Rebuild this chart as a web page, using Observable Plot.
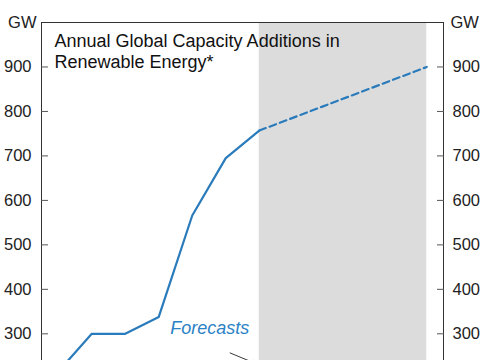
<!DOCTYPE html>
<html>
<head>
<meta charset="utf-8">
<script src="https://cdn.jsdelivr.net/npm/d3@7"></script>
<script src="https://cdn.jsdelivr.net/npm/@observablehq/plot@0.6"></script>
<style>
  html, body { margin: 0; padding: 0; background: #fff; overflow: hidden; }
</style>
</head>
<body>
<div id="chart"></div>
<script>
// Actual annual additions (GW)
const actualYears = [2017, 2018, 2019, 2020, 2021, 2022, 2023];
const actualValues = [215, 300, 300, 338, 566, 695, 757];
// Forecast (dashed)
const forecastYears = [2023, 2028];
const forecastValues = [757, 900];
// Forecast shading span
const shadeStart = [2023];
const shadeEnd = [2028];
// Axis ticks
const yTicks = [300, 400, 500, 600, 700, 800, 900];
const unitLabel = "GW";
const titleText = "Annual Global Capacity Additions in\nRenewable Energy*";
const forecastLabel = "Forecasts";
// annotation positions (data units)
const labelPos = {x: 2020.34, y: 300};
const arrowPos = {x1: 2022.13, y1: 257, x2: 2022.93, y2: 232};

const actual = actualYears.map((x, i) => ({x, y: actualValues[i]}));
const forecast = forecastYears.map((x, i) => ({x, y: forecastValues[i]}));
const shade = shadeStart.map((s, i) => ({x1: s, x2: shadeEnd[i]}));

const xDomain = [2016.5, 2028.5];
const yDomain = [240, 1000];
const font = "'Liberation Sans', Arial, Helvetica, sans-serif";
const blue = "#2a7bbb";

const chart = Plot.plot({
  width: 485,
  height: 360,
  marginTop: 22,
  marginLeft: 41,
  marginRight: 42,
  marginBottom: 0,
  style: {fontFamily: font, fontSize: "16px", color: "#222", background: "#fff"},
  x: {domain: xDomain, axis: null},
  y: {domain: yDomain, axis: null},
  marks: [
    Plot.rect(shade, {x1: "x1", x2: "x2", fill: "#dcdcdc"}),
    Plot.ruleX(xDomain, {stroke: "#333", strokeWidth: 1}),
    Plot.ruleY([yDomain[1]], {stroke: "#333", strokeWidth: 1}),
    Plot.axisY(yTicks, {anchor: "left", tickSize: 7, dx: 7, tickPadding: 10, stroke: "#555", fill: "#222", fontSize: 16.5, tickFormat: d => d}),
    Plot.axisY(yTicks, {anchor: "right", tickSize: 7, dx: -7, tickPadding: 9, stroke: "#555", fill: "#222", fontSize: 16.5, tickFormat: d => d}),
    Plot.text([unitLabel], {x: xDomain[0], y: yDomain[1], dx: -5, textAnchor: "end", fontSize: 16.5, fill: "#222"}),
    Plot.text([unitLabel], {x: xDomain[1], y: yDomain[1], dx: 7, textAnchor: "start", fontSize: 16.5, fill: "#222"}),
    Plot.line(actual, {x: "x", y: "y", stroke: blue, strokeWidth: 2.2, clip: true}),
    Plot.line(forecast, {x: "x", y: "y", stroke: blue, strokeWidth: 2.2, strokeDasharray: "7,4", clip: true}),
    Plot.text([titleText], {frameAnchor: "top-left", dx: 13, dy: 9, lineAnchor: "top", lineHeight: 1.2, textAnchor: "start", fontSize: 18, fill: "#111"}),
    Plot.text([forecastLabel], {x: labelPos.x, y: labelPos.y, textAnchor: "start", lineAnchor: "bottom", fontSize: 18, fontStyle: "italic", fill: "#2b82c5"}),
    Plot.arrow([arrowPos], {x1: "x1", y1: "y1", x2: "x2", y2: "y2", stroke: "#222", strokeWidth: 0.9, headLength: 8, clip: true})
  ]
});
document.getElementById("chart").appendChild(chart);
</script>
</body>
</html>
